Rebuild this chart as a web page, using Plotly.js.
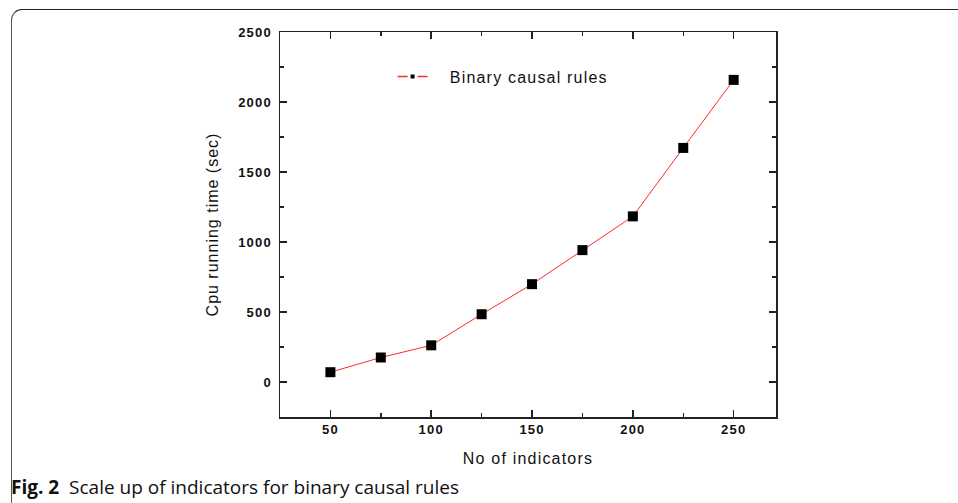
<!DOCTYPE html>
<html>
<head>
<meta charset="utf-8">
<script src="https://cdn.plot.ly/plotly-3.0.1.min.js"></script>
<style>
  html, body { margin: 0; padding: 0; background: #fff; }
  #wrap { position: relative; width: 958px; height: 503px; overflow: hidden; }
  #frame { position: absolute; left: 11px; top: 9px; width: 1000px; height: 600px;
           border-top: 1.5px solid #222; border-left: 1.5px solid #555; border-top-left-radius: 11px; pointer-events: none; }
  #chart { position: absolute; left: 0; top: 0; width: 958px; height: 503px; }
  .xtick text, .ytick text { letter-spacing: 1.2px; }
  .legendtext { letter-spacing: 1.2px; }
  .xtitle { letter-spacing: 1.2px; }
  .ytitle { letter-spacing: 1px; }
</style>
</head>
<body>
<div id="wrap">
  <div id="chart"></div>
  <div id="frame"></div>
</div>
<script>
const indicators = [50, 75, 100, 125, 150, 175, 200, 225, 250];
const cpuTime = [70, 175, 262, 484, 699, 942, 1183, 1672, 2158];
const seriesName = 'Binary causal rules';
const xTitle = 'No of indicators';
const yTitle = 'Cpu running time (sec)';
const caption = '<b>Fig. 2</b>  Scale up of indicators for binary causal rules';

const axisFont = { family: 'Liberation Sans, Arial, sans-serif', size: 13, color: '#111', weight: 'bold' };
const titleFont = { family: 'Liberation Sans, Arial, sans-serif', size: 16, color: '#111' };

const trace = {
  x: indicators, y: cpuTime, name: seriesName, type: 'scatter', mode: 'lines+markers',
  showlegend: false,
  line: { color: '#ff2a2a', width: 1 },
  marker: { symbol: 'square', size: 10, color: '#000' }
};
// legend-only entry (no data points); leading em space mimics the gap before the label
const legendEntry = {
  x: [null], y: [null], name: '\u2003' + seriesName, type: 'scatter', mode: 'lines+markers',
  line: { color: '#ff2a2a', width: 1.5 },
  marker: { symbol: 'square', size: 7, color: '#000', line: { color: '#fff', width: 3 } }
};

const axisCommon = {
  showline: true, linecolor: '#222', linewidth: 1.5, mirror: 'ticks',
  ticks: 'inside', ticklen: 7, tickwidth: 1.5, tickcolor: '#222',
  showgrid: false, zeroline: false, tickfont: axisFont
};

const layout = {
  width: 958, height: 503,
  margin: { l: 280, r: 182, t: 32, b: 86 },
  paper_bgcolor: 'rgba(0,0,0,0)', plot_bgcolor: '#fff',
  showlegend: true,
  legend: { x: 0.227, y: 0.884, xanchor: 'left', yanchor: 'middle', bgcolor: 'rgba(0,0,0,0)',
            font: { family: 'Liberation Sans, Arial, sans-serif', size: 16, color: '#111' } },
  xaxis: Object.assign({}, axisCommon, {
    range: [25, 271], tickvals: [50, 100, 150, 200, 250],
    minor: { tickvals: [25, 75, 125, 175, 225], ticks: 'inside', ticklen: 4, tickcolor: '#222', tickwidth: 1.5 },
    title: { text: xTitle, standoff: 16, font: titleFont }
  }),
  yaxis: Object.assign({}, axisCommon, {
    range: [-250, 2500], tickvals: [0, 500, 1000, 1500, 2000, 2500],
    minor: { tickvals: [250, 750, 1250, 1750, 2250], ticks: 'inside', ticklen: 4, tickcolor: '#222', tickwidth: 1.5 },
    ticklabelstandoff: 4,
    title: { text: yTitle, standoff: 15, font: titleFont }
  }),
  annotations: [{
    text: caption, xref: 'paper', yref: 'paper', x: -0.546, y: -0.182, xanchor: 'left', yanchor: 'middle',
    showarrow: false, font: { family: 'Open Sans, Noto Sans, sans-serif', size: 19, color: '#111' }
  }]
};

Plotly.newPlot('chart', [trace, legendEntry], layout, { displayModeBar: false, staticPlot: true });
</script>
</body>
</html>
